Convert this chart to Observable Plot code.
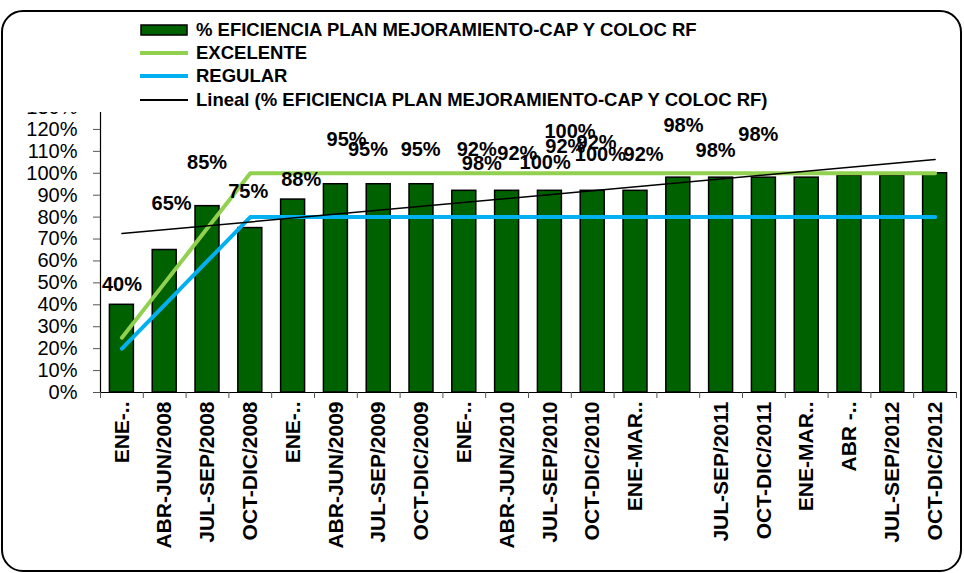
<!DOCTYPE html>
<html><head><meta charset="utf-8">
<script src="https://cdn.jsdelivr.net/npm/d3@7"></script>
<script src="https://cdn.jsdelivr.net/npm/@observablehq/plot@0.6"></script>
<style>
body{margin:0;background:#fff;font-family:"Liberation Sans",Arial,sans-serif;}
#wrap{position:relative;width:964px;height:573px;overflow:hidden;background:#fff;}
#chart{position:absolute;left:0;top:0;}
#frame{position:absolute;box-sizing:border-box;left:1px;top:10px;width:961px;height:562px;border:2.5px solid #000;border-radius:22px;pointer-events:none;}
#legend{position:absolute;left:20px;top:13px;width:790px;height:99px;background:#fff;}
.item{position:absolute;left:120px;height:22px;display:flex;align-items:center;font-weight:bold;font-size:18.5px;white-space:nowrap;color:#000;}
.key{width:48px;margin-right:8px;flex:none;}
</style></head>
<body>
<div id="wrap">
  <div id="chart"></div>
  <div id="legend"></div>
  <div id="frame"></div>
</div>
<script>
// ---- data ----
const periods = ["ENE-..","ABR-JUN/2008","JUL-SEP/2008","OCT-DIC/2008","ENE-..","ABR-JUN/2009","JUL-SEP/2009","OCT-DIC/2009","ENE-..","ABR-JUN/2010","JUL-SEP/2010","OCT-DIC/2010","ENE-MAR..","","JUL-SEP/2011","OCT-DIC/2011","ENE-MAR..","ABR -..","JUL-SEP/2012","OCT-DIC/2012"];
const eficiencia = [0.40,0.65,0.85,0.75,0.88,0.95,0.95,0.95,0.92,0.92,0.92,0.92,0.92,0.98,0.98,0.98,0.98,0.99,0.99,1.00];
const excelente = [0.25,0.50,0.75,1,1,1,1,1,1,1,1,1,1,1,1,1,1,1,1,1];
const regular   = [0.20,0.40,0.60,0.80,0.80,0.80,0.80,0.80,0.80,0.80,0.80,0.80,0.80,0.80,0.80,0.80,0.80,0.80,0.80,0.80];
const yTicks = [0,0.1,0.2,0.3,0.4,0.5,0.6,0.7,0.8,0.9,1.0,1.1,1.2,1.3];
// data labels as placed (moved) in the original chart
const labelText = ["40%","65%","85%","75%","88%","95%","95%","95%","92%","98%","92%","100%","100%","92%","92%","100%","92%","98%","98%","98%"];
const labelX = [0.0,1.16,1.99,2.95,4.19,5.25,5.75,6.98,8.29,8.41,9.24,9.89,10.47,10.36,11.09,11.18,12.19,13.12,13.87,14.87];
const labelY = [0.49,0.863,1.047,0.916,0.971,1.153,1.106,1.107,1.107,1.042,1.088,1.047,1.189,1.121,1.141,1.083,1.083,1.219,1.103,1.176];

const legendItems = [
  {label:"% EFICIENCIA PLAN MEJORAMIENTO-CAP Y COLOC RF", type:"box", color:"#006100"},
  {label:"EXCELENTE", type:"line", color:"#92D050", w:4},
  {label:"REGULAR", type:"line", color:"#00B0F0", w:4},
  {label:"Lineal (% EFICIENCIA PLAN MEJORAMIENTO-CAP Y COLOC RF)", type:"line", color:"#000", w:2}
];

// ---- build ----
const rows = periods.map((p,i)=>({i, p, v:eficiencia[i], exc:excelente[i], reg:regular[i]}));
const labels = labelText.map((t,k)=>({t, x:labelX[k], y:labelY[k]}));
const half = 0.28;

const chart = Plot.plot({
  width:964, height:573,
  marginLeft:100, marginRight:8, marginTop:107, marginBottom:181,
  x:{type:"linear", domain:[-0.5, periods.length-0.5]},
  y:{domain:[0,1.3]},
  style:{fontFamily:"'Liberation Sans', Arial, sans-serif", color:"#000", background:"transparent", overflow:"visible"},
  marks:[
    Plot.rectY(rows,{x1:d=>d.i-half, x2:d=>d.i+half, y1:0, y2:"v", fill:"#006100", stroke:"#000", strokeWidth:1.5}),
    Plot.ruleY([0],{stroke:"#000", strokeWidth:1.2}),
    Plot.ruleX([-0.5],{y1:0, y2:1.3, stroke:"#000", strokeWidth:1.2}),
    Plot.axisY({ticks:yTicks, tickFormat:d3.format(".0%"), tickSize:7, tickPadding:16, fontSize:20, label:null, stroke:"#555"}),
    Plot.axisX({ticks:d3.range(periods.length+1).map(d=>d-0.5), tickFormat:()=>"", tickSize:6, label:null, stroke:"#555"}),
    Plot.axisX({ticks:d3.range(periods.length), tickFormat:i=>periods[i], tickSize:0, tickPadding:9, tickRotate:-90, fontSize:21, fontWeight:"bold", label:null}),
    Plot.line(rows,{x:"i", y:"exc", stroke:"#92D050", strokeWidth:4, strokeLinecap:"round"}),
    Plot.line(rows,{x:"i", y:"reg", stroke:"#00B0F0", strokeWidth:4, strokeLinecap:"round"}),
    Plot.linearRegressionY(rows,{x:"i", y:"v", ci:0, stroke:"#000", strokeWidth:1.5}),
    Plot.text(labels,{x:"x", y:"y", text:"t", fontSize:20, fontWeight:"bold", fill:"#000"})
  ]
});
document.getElementById("chart").appendChild(chart);

// legend
const leg = document.getElementById("legend");
const centers = [17, 40, 63, 87];
legendItems.forEach((it,k)=>{
  const div = document.createElement("div");
  div.className = "item";
  div.style.top = (centers[k]-11)+"px";
  const svgNS = "http://www.w3.org/2000/svg";
  const s = document.createElementNS(svgNS,"svg");
  s.setAttribute("class","key"); s.setAttribute("width",48); s.setAttribute("height",22);
  if (it.type==="box"){
    const r = document.createElementNS(svgNS,"rect");
    r.setAttribute("x",1); r.setAttribute("y",6); r.setAttribute("width",46); r.setAttribute("height",10);
    r.setAttribute("fill",it.color); r.setAttribute("stroke","#000"); r.setAttribute("stroke-width",1.5);
    s.appendChild(r);
  } else {
    const l = document.createElementNS(svgNS,"line");
    l.setAttribute("x1",0); l.setAttribute("x2",48); l.setAttribute("y1",11); l.setAttribute("y2",11);
    l.setAttribute("stroke",it.color); l.setAttribute("stroke-width",it.w);
    s.appendChild(l);
  }
  div.appendChild(s);
  const sp = document.createElement("span");
  sp.textContent = it.label;
  div.appendChild(sp);
  leg.appendChild(div);
});
</script>
</body></html>
